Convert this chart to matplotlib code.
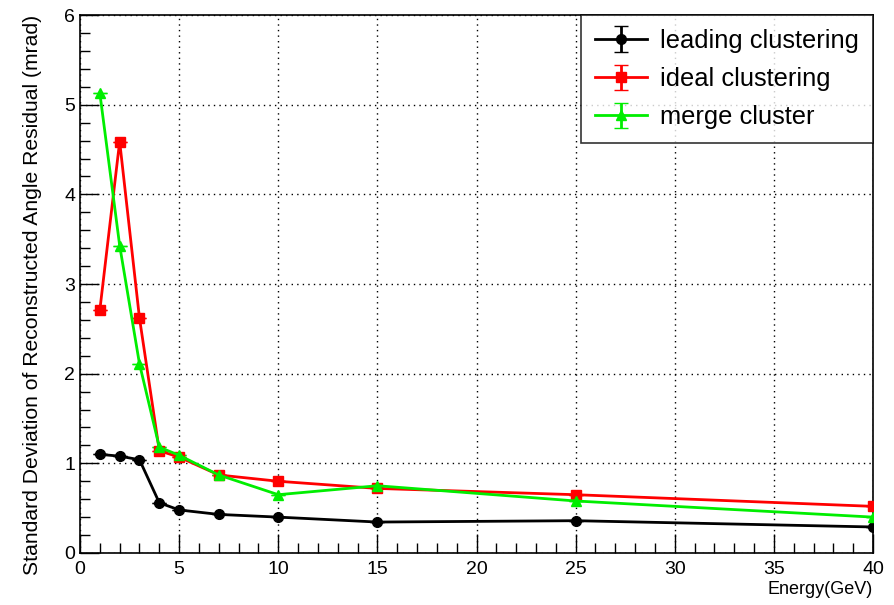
import matplotlib
matplotlib.use("Agg")
import matplotlib.pyplot as plt
from matplotlib.ticker import MultipleLocator
import numpy as np

plt.rcParams['font.family'] = ['Liberation Sans', 'DejaVu Sans']

# data
energy = [1, 2, 3, 4, 5, 7, 10, 15, 25, 40]
leading = [1.10, 1.08, 1.04, 0.56, 0.48, 0.43, 0.40, 0.345, 0.36, 0.29]
ideal = [2.71, 4.59, 2.62, 1.14, 1.07, 0.87, 0.80, 0.72, 0.65, 0.52]
merge = [5.13, 3.43, 2.11, 1.18, 1.09, 0.87, 0.65, 0.75, 0.58, 0.40]
labels = ["leading clustering", "ideal clustering", "merge cluster"]

fig = plt.figure(figsize=(8.94, 6.05), dpi=100)
ax = fig.add_axes([0.0895, 0.086, 0.887, 0.889])

zero = np.zeros(len(energy))
ax.errorbar(energy, leading, yerr=zero, color='black', marker='o', ms=7, lw=2,
            capsize=5, label=labels[0], zorder=3)
ax.errorbar(energy, ideal, yerr=zero, color='red', marker='s', ms=7, lw=2,
            capsize=5, label=labels[1], zorder=3)
ax.errorbar(energy, merge, yerr=zero, color='#00ee00', marker='^', ms=7, lw=2,
            capsize=5, label=labels[2], zorder=3)

ax.set_xlim(0, 40)
ax.set_ylim(0, 6)
ax.xaxis.set_major_locator(MultipleLocator(5))
ax.xaxis.set_minor_locator(MultipleLocator(1))
ax.yaxis.set_major_locator(MultipleLocator(1))
ax.yaxis.set_minor_locator(MultipleLocator(0.2))
ax.tick_params(which='both', direction='in', top=False, right=False, labelsize=14, width=1)
ax.tick_params(axis='x', pad=6)
ax.tick_params(which='major', length=14)
ax.tick_params(which='minor', length=7)
ax.grid(True, which='major', color='black', linestyle=(0, (1, 3)), lw=1)
for s in ax.spines.values():
    s.set_linewidth(1.2)

ax.set_xlabel("Energy(GeV)", fontsize=13, loc='right', labelpad=2)
ax.set_ylabel("Standard Deviation of Reconstructed Angle Residual (mrad)", fontsize=15.2,
              loc='top')
ax.yaxis.set_label_coords(-0.048, 1.0)

leg = ax.legend(loc='upper right', fontsize=18.4, frameon=True, fancybox=False,
                edgecolor='black', borderaxespad=0, handlelength=2.05,
                handletextpad=0.5, borderpad=0.55, labelspacing=0.55)
leg.get_frame().set_linewidth(1.2)

fig.savefig("out.png", dpi=100)
